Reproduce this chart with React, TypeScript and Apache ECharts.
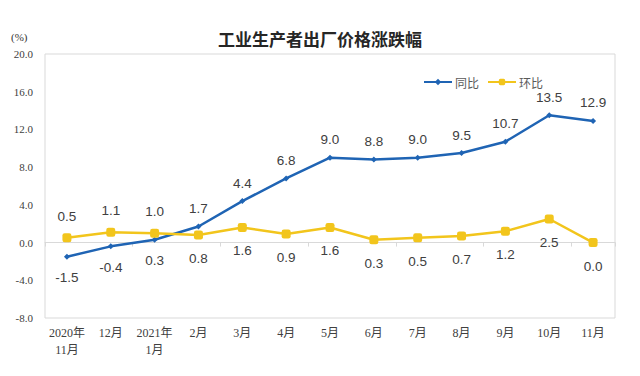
import React, { useEffect, useRef } from "react";
import * as echarts from "echarts";

const categories = ["2020年\n11月", "12月", "2021年\n1月", "2月", "3月", "4月", "5月", "6月", "7月", "8月", "9月", "10月", "11月"];
const yoy = [-1.5, -0.4, 0.3, 1.7, 4.4, 6.8, 9.0, 8.8, 9.0, 9.5, 10.7, 13.5, 12.9];
const mom = [0.5, 1.1, 1.0, 0.8, 1.6, 0.9, 1.6, 0.3, 0.5, 0.7, 1.2, 2.5, 0.0];
const yoyBelow = [0, 1, 2];
const momAbove = [0, 1, 2];

const BLUE = "#1f64b4";
const YELLOW = "#f2c51c";

export default function App() {
  const ref = useRef<HTMLDivElement>(null);
  useEffect(() => {
    if (!ref.current) return;
    const chart = echarts.init(ref.current, null, { renderer: "svg" });
    const labelStyle = { fontFamily: "Liberation Sans, Arial, sans-serif", fontSize: 13.5, color: "#404040", formatter: (p: any) => Number(p.value).toFixed(1) };
    chart.setOption({
      animation: false,
      backgroundColor: "#ffffff",
      title: {
        text: "工业生产者出厂价格涨跌幅",
        left: "center",
        top: 25,
        textStyle: { fontFamily: "Noto Sans CJK SC", fontSize: 17, fontWeight: "bold", color: "#262626" },
      },
      graphic: [
        { type: "text", left: 11, top: 31, style: { text: "(%)", font: "11px 'Liberation Serif', serif", fill: "#333" } },
      ],
      legend: {
        right: 92,
        top: 71,
        itemWidth: 28,
        itemHeight: 8,
        itemGap: 8,
        textStyle: { fontFamily: "Noto Sans CJK SC", fontSize: 12, color: "#595959", padding: [0, 0, 0, -2] },
        data: ["同比", "环比"],
      },
      grid: { left: 45, right: 25, top: 54, bottom: 58, show: true, borderColor: "#d9d9d9", borderWidth: 1 },
      xAxis: [
        {
          type: "category",
          data: categories,
          position: "bottom",
          axisLine: { show: false, onZero: false },
          axisTick: { show: false },
          axisLabel: { margin: 6, fontFamily: "Liberation Serif, Noto Sans CJK SC, serif", fontSize: 12, color: "#404040", lineHeight: 17, interval: 0 },
        },
        {
          type: "category",
          data: categories,
          position: "bottom",
          axisLine: { show: true, onZero: true, lineStyle: { color: "#d9d9d9" } },
          axisTick: { show: true, length: 4, lineStyle: { color: "#d9d9d9" } },
          axisLabel: { show: false },
        },
      ],
      yAxis: {
        type: "value",
        min: -8,
        max: 20,
        interval: 4,
        splitLine: { show: false },
        axisLine: { show: false },
        axisTick: { show: false },
        axisLabel: { margin: 12, fontFamily: "Liberation Serif, serif", fontSize: 11, color: "#404040", formatter: (v: number) => v.toFixed(1) },
      },
      series: [
        {
          name: "同比",
          type: "line",
          xAxisIndex: 0,
          data: yoy.map((v, i) => ({ value: v, label: { position: yoyBelow.includes(i) ? "bottom" : "top", distance: yoyBelow.includes(i) ? 11 : 8 } })),
          lineStyle: { color: BLUE, width: 2.5 },
          itemStyle: { color: BLUE },
          symbol: "diamond",
          symbolSize: 6,
          label: { show: true, ...labelStyle },
        },
        {
          name: "环比",
          type: "line",
          xAxisIndex: 0,
          data: mom.map((v, i) => ({ value: v, label: { position: momAbove.includes(i) ? "top" : "bottom", distance: momAbove.includes(i) ? 10 : 12 } })),
          lineStyle: { color: YELLOW, width: 2.5 },
          itemStyle: { color: YELLOW },
          symbol: "roundRect",
          symbolSize: 9,
          label: { show: true, ...labelStyle },
        },
      ],
    });
    return () => chart.dispose();
  }, []);
  return <div ref={ref} style={{ width: 640, height: 376, position: "absolute", left: 0, top: 0 }} />;
}
